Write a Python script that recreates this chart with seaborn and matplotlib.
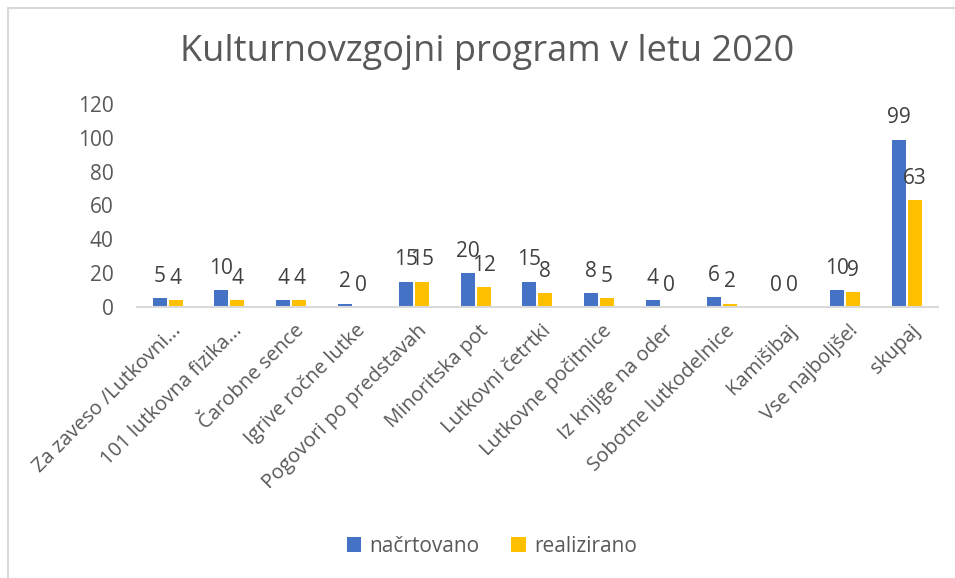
#kulturnovzgojni program - grouped bar chart
import numpy as np
import pandas as pd
import matplotlib.pyplot as plt
from matplotlib.lines import Line2D
import matplotlib.transforms as mtransforms
import seaborn as sns

#data
categories = ['Za zaveso /Lutkovni...', '101 lutkovna fizika...', 'Čarobne sence',
              'Igrive ročne lutke', 'Pogovori po predstavah', 'Minoritska pot',
              'Lutkovni četrtki', 'Lutkovne počitnice', 'Iz knjige na oder',
              'Sobotne lutkodelnice', 'Kamišibaj', 'Vse najboljše!', 'skupaj']
nacrtovano = [5, 10, 4, 2, 15, 20, 15, 8, 4, 6, 0, 10, 99]
realizirano = [4, 4, 4, 0, 15, 12, 8, 5, 0, 2, 0, 9, 63]
series_names = ['načrtovano', 'realizirano']
colors = ['#4472C4', '#FFC000']
y_ticks = [0, 20, 40, 60, 80, 100, 120]

df = pd.DataFrame({
    'program': categories * 2,
    'serija': [series_names[0]] * len(categories) + [series_names[1]] * len(categories),
    'vrednost': nacrtovano + realizirano,
})

sns.set_style('white')
plt.rcParams['font.family'] = ['Open Sans', 'DejaVu Sans']

fig = plt.figure(figsize=(9.55, 5.78), dpi=100)
ax = fig.add_axes([0.1435, 0.469, 0.8385, 0.351])

sns.barplot(data=df, x='program', y='vrednost', hue='serija', palette=colors,
            saturation=1, width=0.52, gap=0.13, ax=ax, edgecolor='none')

for cont in ax.containers:
    ax.bar_label(cont, fmt='%g', padding=8, fontsize=15, color='#404040')

ax.set_ylim(0, 120)
ax.set_yticks(y_ticks)
ax.set_xlim(-0.5, len(categories) - 0.5)
ax.tick_params(axis='y', labelsize=15, labelcolor='#595959', length=0, pad=17)
ax.tick_params(axis='x', labelsize=14.5, labelcolor='#595959', length=0, pad=10)
shift = mtransforms.ScaledTranslation(3 / 100, 0, fig.dpi_scale_trans)
for lab in ax.get_xticklabels():
    lab.set_rotation(45)
    lab.set_ha('right')
    lab.set_va('top')
    lab.set_rotation_mode('anchor')
    lab.set_transform(lab.get_transform() + shift)
ax.set_xlabel('')
ax.set_ylabel('')

for s in ['top', 'right', 'left']:
    ax.spines[s].set_visible(False)
ax.spines['bottom'].set_color('#D9D9D9')
ax.spines['bottom'].set_linewidth(1.5)

fig.text(0.51, 1 - 52 / 578, 'Kulturnovzgojni program v letu 2020', fontsize=26,
         color='#595959', ha='center', va='center')

sns.move_legend(ax, 'center', bbox_to_anchor=(0.515, 1 - 546 / 578), bbox_transform=fig.transFigure,
                ncol=2, frameon=False, title=None, fontsize=15, handlelength=0.7,
                handleheight=0.7, columnspacing=1.5, handletextpad=0.4)
for t in ax.get_legend().get_texts():
    t.set_color('#595959')

#chart border (top and left edges visible)
fig.add_artist(Line2D([8 / 955, 8 / 955], [0, 1 - 8 / 578], color='#D9D9D9', lw=1.5))
fig.add_artist(Line2D([8 / 955, 1], [1 - 8 / 578, 1 - 8 / 578], color='#D9D9D9', lw=1.5))

fig.savefig('out.png', dpi=100)
